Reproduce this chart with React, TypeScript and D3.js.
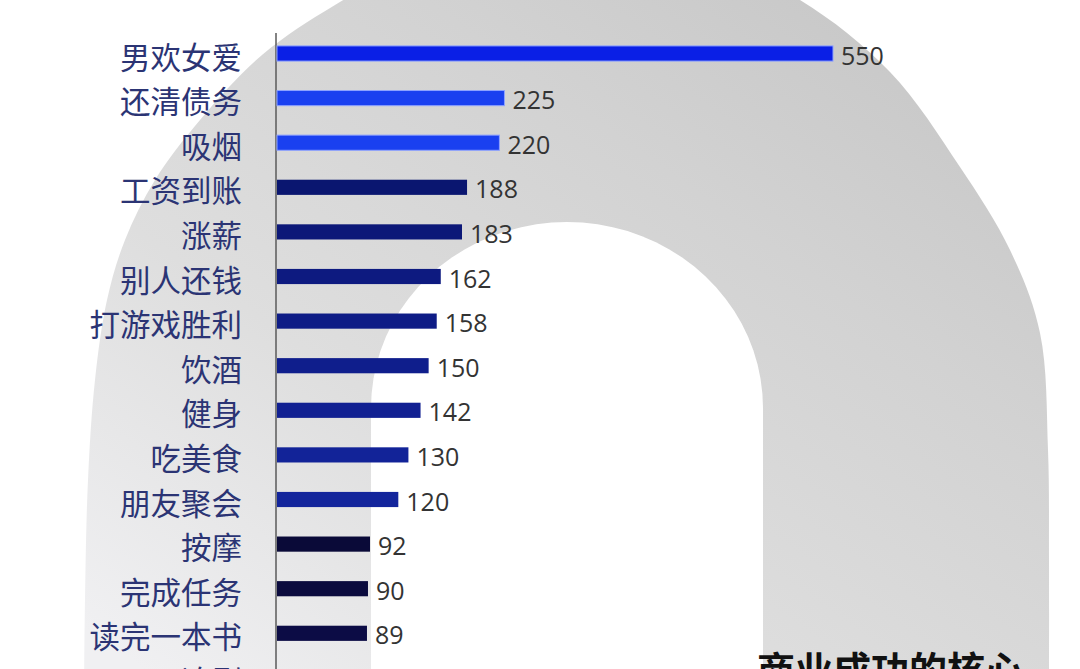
import * as d3 from 'd3';
import React from 'react';

const categories = [
  '男欢女爱', '还清债务', '吸烟', '工资到账', '涨薪', '别人还钱', '打游戏胜利',
  '饮酒', '健身', '吃美食', '朋友聚会', '按摩', '完成任务', '读完一本书', '追剧',
];
const values = [550, 225, 220, 188, 183, 162, 158, 150, 142, 130, 120, 92, 90, 89, 81];
const barColors = [
  '#0a1fe6', '#1a40f0', '#1a40f0', '#0a1670', '#0c1878', '#0d1a80', '#0e1c86',
  '#0f1e8c', '#112092', '#122398', '#13259c', '#0a0a38', '#0b0b3e', '#0c0c45', '#c9cbd9',
];
const caption = '商业成功的核心';

// background arch outline (decoration)
const outerLeft: [number, number][] = [
  [84, 700], [85, 600], [88, 480], [95, 380], [107, 300], [125, 240], [155, 180],
  [200, 120], [262, 55], [335, 5], [430, -45], [560, -70],
];
const outerRight: [number, number][] = [
  [560, -70], [690, -50], [800, 0], [890, 72], [960, 167], [1010, 250],
  [1040, 333], [1048, 450], [1049, 560], [1049, 700],
];

const W = 1080;
const H = 669;

const App: React.FC = () => {
  const x = d3.scaleLinear().domain([0, 550]).range([277, 833]);
  const y = d3
    .scaleBand<string>()
    .domain(categories)
    .range([31.2, 700.2])
    .paddingInner(0.66)
    .paddingOuter(0.33);

  const curve = d3.line().curve(d3.curveCatmullRom.alpha(0.5));
  const outerPath = curve([...outerLeft, ...outerRight.slice(1)]) + 'Z';

  // inner white hole: half ellipse on top of straight sides
  const hole = d3.path();
  const hcx = 567, hcy = 408, hrx = 196, hry = 186;
  hole.moveTo(hcx - hrx, 700);
  hole.lineTo(hcx - hrx, hcy);
  const steps = 40;
  for (let i = 1; i <= steps; i++) {
    const a = Math.PI - (Math.PI * i) / steps;
    hole.lineTo(hcx + hrx * Math.cos(a), hcy - hry * Math.sin(a));
  }
  hole.lineTo(hcx + hrx, 700);
  hole.closePath();

  const bw = y.bandwidth();

  return (
    <svg
      width={W}
      height={H}
      style={{ position: 'absolute', left: 0, top: 0, background: '#ffffff' }}
    >
      <defs>
        <linearGradient id="archFill" x1="0.05" y1="0.95" x2="0.85" y2="0.05">
          <stop offset="0%" stopColor="#f0f0f2" />
          <stop offset="35%" stopColor="#dedede" />
          <stop offset="70%" stopColor="#d2d2d2" />
          <stop offset="100%" stopColor="#c6c6c6" />
        </linearGradient>
      </defs>

      <path d={outerPath} fill="url(#archFill)" />
      <path d={hole.toString()} fill="#ffffff" />

      {/* axis line */}
      <line x1={276} x2={276} y1={33} y2={H} stroke="#5a5a5a" strokeWidth={1.5} />

      {categories.map((c, i) => {
        const yc = (y(c) as number) + bw / 2;
        const last = i === categories.length - 1;
        return (
          <g key={c}>
            <rect
              x={x(0)}
              y={y(c)}
              width={x(values[i]) - x(0)}
              height={bw}
              fill={barColors[i]}
              stroke={last ? '#6a7090' : i < 3 ? '#8ea2ff' : 'none'}
              strokeWidth={last ? 1 : i < 3 ? 1 : 0}
            />
            <text
              x={242}
              y={yc + 2}
              textAnchor="end"
              dominantBaseline="central"
              fontFamily="'Noto Sans CJK SC', sans-serif"
              fontSize={30.5}
              fill="#2b3474"
            >
              {c}
            </text>
            <text
              x={x(values[i]) + 8}
              y={yc + 1}
              dominantBaseline="central"
              fontFamily="'Open Sans', 'Noto Sans', sans-serif"
              fontSize={25}
              fill="#333333"
            >
              {values[i]}
            </text>
          </g>
        );
      })}

      <text
        x={757}
        y={684}
        fontFamily="'Noto Sans CJK SC', sans-serif"
        fontWeight={700}
        fontSize={38}
        fill="#111111"
      >
        {caption}
      </text>
    </svg>
  );
};

export default App;
